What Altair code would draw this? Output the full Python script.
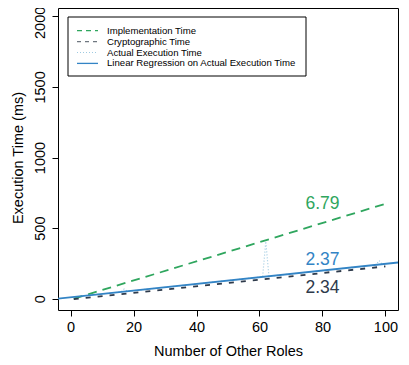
import altair as alt
import pandas as pd

# ---- data ----
roles = list(range(1, 101))
actual_ms = [12, 15, 17, 19, 22, 24, 27, 29, 31, 34,
             36, 38, 41, 43, 46, 48, 68, 53, 55, 57,
             60, 62, 64, 67, 69, 72, 74, 76, 79, 81,
             83, 86, 88, 91, 93, 95, 98, 100, 102, 105,
             107, 110, 112, 114, 117, 119, 121, 124, 126, 129,
             131, 133, 136, 138, 140, 143, 145, 147, 150, 152,
             155, 405, 159, 162, 164, 166, 169, 171, 174, 176,
             178, 181, 183, 185, 188, 190, 192, 195, 197, 200,
             202, 204, 207, 209, 211, 214, 216, 219, 221, 223,
             226, 228, 230, 233, 235, 237, 240, 270, 245, 247]

impl_x = [1, 100]
impl_ms = [0, 672]
crypto_x = [1, 100]
crypto_ms = [-3, 229]
reg_x = [-5, 105]
reg_ms = [-2, 259]

slope_labels = ["6.79", "2.37", "2.34"]
slope_x = [80, 80, 80]
slope_y = [672, 275, 76]

x_ticks = [0, 20, 40, 60, 80, 100]
y_ticks = [0, 500, 1000, 1500, 2000]

legend_labels = ["Implementation Time", "Cryptographic Time",
                 "Actual Execution Time", "Linear Regression on Actual Execution Time"]

GREEN = "#2fa65e"
DARK = "#2e3a4b"
LIGHT = "#9ecae1"
BLUE = "#3384c5"
FONT = "Liberation Sans"

xscale = alt.Scale(domain=[-4, 104], nice=False, zero=False)
yscale = alt.Scale(domain=[-80, 2059], nice=False, zero=False)

xaxis = alt.Axis(values=x_ticks, title="Number of Other Roles", grid=False, domain=False,
                 tickSize=6, tickColor="black", labelPadding=4, labelFontSize=14.5,
                 labelColor="black", labelFont=FONT, titleFont=FONT, titleFontSize=14.5,
                 titleFontWeight="normal", titleColor="black", titleY=45,
                 titleBaseline="alphabetic", labelFlush=False, format="d")
yaxis = alt.Axis(values=y_ticks, title="Execution Time (ms)", grid=False, domain=False,
                 tickSize=6, tickColor="black", labelPadding=8, labelFontSize=14.5,
                 labelColor="black", labelFont=FONT, labelAngle=270, labelAlign="center",
                 labelBaseline="alphabetic", titleFont=FONT, titleFontSize=14.5,
                 titleFontWeight="normal", titleColor="black", titleAngle=270,
                 titleX=-36, titleY=149.5, titleAlign="center", titleBaseline="alphabetic",
                 labelFlush=False, format="d",
                 labelOffset={"condition": {"test": "datum.value === 2000", "value": 6},
                              "value": 0})


def xy():
    return dict(x=alt.X("x:Q", scale=xscale, axis=xaxis),
                y=alt.Y("y:Q", scale=yscale, axis=yaxis))


impl_df = pd.DataFrame({"x": impl_x, "y": impl_ms})
crypto_df = pd.DataFrame({"x": crypto_x, "y": crypto_ms})
actual_df = pd.DataFrame({"x": roles, "y": actual_ms})
reg_df = pd.DataFrame({"x": reg_x, "y": reg_ms})
lab_df = pd.DataFrame({"x": slope_x, "y": slope_y, "t": slope_labels,
                       "c": [GREEN, BLUE, DARK]})

impl = alt.Chart(impl_df).mark_line(color=GREEN, strokeWidth=1.8, strokeDash=[9, 6],
                                    clip=True).encode(**xy())
crypto = alt.Chart(crypto_df).mark_line(color=DARK, strokeWidth=1.8, strokeDash=[5, 7],
                                        clip=True).encode(**xy())
actual = alt.Chart(actual_df).mark_line(color=LIGHT, strokeWidth=1.2, strokeDash=[1, 2],
                                        clip=True).encode(**xy())
reg = alt.Chart(reg_df).mark_line(color=BLUE, strokeWidth=1.8, clip=True).encode(**xy())
labels = alt.Chart(lab_df).mark_text(font=FONT, fontSize=17.5, align="center",
                                     baseline="middle").encode(
    **xy(), text="t:N", color=alt.Color("c:N", scale=None))

# ---- legend (pixel positioned, relative to the plot area) ----
one = pd.DataFrame({"k": [0]})
legend_layers = [
    alt.Chart(one).mark_rect(fill="white", stroke="black", strokeWidth=1).encode(
        x=alt.value(10), x2=alt.value(248), y=alt.value(9), y2=alt.value(68))
]
styles = [(GREEN, [5, 4], 1.3), ("#6f7780", [4, 4], 1.3), (LIGHT, [1, 2], 1.2), (BLUE, None, 1.3)]
for i, (lab, (col, dash, sw)) in enumerate(zip(legend_labels, styles)):
    ypix = 22.7 + i * 10.9
    rule_kw = dict(color=col, strokeWidth=sw)
    if dash is not None:
        rule_kw["strokeDash"] = dash
    ld = pd.DataFrame({"label": [lab]})
    legend_layers.append(alt.Chart(ld).mark_rule(**rule_kw).encode(
        x=alt.value(19), x2=alt.value(40), y=alt.value(ypix)))
    legend_layers.append(alt.Chart(ld).mark_text(font=FONT, fontSize=9.6, align="left",
                                                 baseline="middle", color="black").encode(
        x=alt.value(49), y=alt.value(ypix), text="label:N"))

chart = alt.layer(impl, crypto, actual, reg, labels, *legend_layers).properties(
    width=340, height=302,
    padding={"left": 50, "top": 0, "right": 3, "bottom": 47},
    autosize=alt.AutoSizeParams(type="none"),
    background="white",
).configure_view(stroke="black", strokeWidth=1)

chart.save("out.html", embed_options={"renderer": "svg", "actions": False})
